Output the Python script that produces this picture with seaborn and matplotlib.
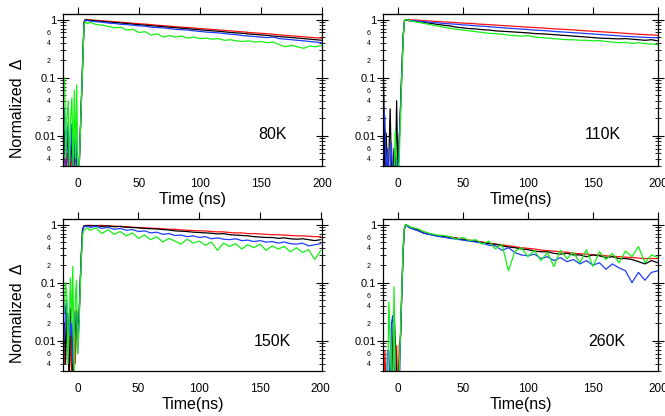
import numpy as np
import pandas as pd
import matplotlib
matplotlib.use("Agg")
import matplotlib.pyplot as plt
import seaborn as sns
from matplotlib.ticker import LogLocator, FuncFormatter

# time axis (ns), shared by every trace
time_ns = [-11, -10, -9, -8, -7, -6, -5, -4, -3, -2, -1, 0,
           1, 2, 3, 4, 5, 6, 8,
           10, 15, 20, 25, 30, 35, 40, 45, 50, 55, 60, 65, 70, 75, 80, 85, 90, 95,
           100, 105, 110, 115, 120, 125, 130, 135, 140, 145, 150, 155, 160, 165,
           170, 175, 180, 185, 190, 195, 200]

# ---- 80K ----
red_80K = [0.004, 0.002, 0.005, 0.003, 0.002, 0.0045, 0.003, 0.002, 0.004, 0.005, 0.002, 0.001,
           0.003, 0.013, 0.055, 0.23, 0.9, 1.0, 1.0,
           0.99, 0.97, 0.955, 0.935, 0.92, 0.90, 0.885, 0.865, 0.85, 0.835, 0.82, 0.80, 0.785,
           0.77, 0.755, 0.74, 0.73, 0.715, 0.70, 0.69, 0.675, 0.665, 0.65, 0.64, 0.625, 0.615,
           0.60, 0.59, 0.58, 0.57, 0.56, 0.545, 0.535, 0.525, 0.515, 0.505, 0.495, 0.485, 0.48]
black_80K = [0.012, 0.002, 0.006, 0.01, 0.002, 0.004, 0.008, 0.002, 0.004, 0.009, 0.002, 0.001,
             0.003, 0.013, 0.055, 0.23, 0.9, 1.0, 0.98,
             0.97, 0.95, 0.93, 0.91, 0.89, 0.875, 0.855, 0.835, 0.82, 0.80, 0.785, 0.77, 0.755,
             0.74, 0.725, 0.71, 0.695, 0.68, 0.665, 0.655, 0.64, 0.63, 0.615, 0.60, 0.59, 0.58,
             0.565, 0.555, 0.545, 0.535, 0.52, 0.51, 0.50, 0.49, 0.48, 0.47, 0.46, 0.45, 0.44]
blue_80K = [0.03, 0.002, 0.008, 0.017, 0.002, 0.006, 0.016, 0.002, 0.005, 0.012, 0.002, 0.001,
            0.003, 0.013, 0.055, 0.23, 0.88, 0.97, 0.96,
            0.94, 0.92, 0.90, 0.87, 0.86, 0.83, 0.82, 0.80, 0.78, 0.77, 0.74, 0.73, 0.72,
            0.70, 0.68, 0.67, 0.66, 0.64, 0.625, 0.61, 0.60, 0.59, 0.575, 0.56, 0.55, 0.53,
            0.52, 0.51, 0.50, 0.49, 0.50, 0.47, 0.46, 0.45, 0.44, 0.43, 0.42, 0.41, 0.40]
green_80K = [0.1, 0.004, 0.02, 0.04, 0.003, 0.02, 0.045, 0.003, 0.06, 0.004, 0.075, 0.001,
             0.003, 0.012, 0.05, 0.2, 0.8, 0.92, 0.85,
             0.90, 0.82, 0.80, 0.76, 0.72, 0.74, 0.66, 0.68, 0.60, 0.62, 0.54, 0.57, 0.50,
             0.53, 0.50, 0.52, 0.48, 0.50, 0.47, 0.48, 0.46, 0.47, 0.44, 0.45, 0.43, 0.42,
             0.43, 0.41, 0.42, 0.40, 0.41, 0.37, 0.34, 0.36, 0.34, 0.32, 0.35, 0.34, 0.36]

# ---- 110K ----
red_110K = [0.002, 0.012, 0.002, 0.0043, 0.002, 0.002, 0.004, 0.002, 0.002, 0.002, 0.003, 0.002,
            0.008, 0.03, 0.13, 0.5, 0.95, 1.0, 1.0,
            0.99, 0.98, 0.96, 0.945, 0.93, 0.915, 0.90, 0.885, 0.87, 0.86, 0.845, 0.83, 0.82,
            0.805, 0.79, 0.78, 0.765, 0.755, 0.74, 0.73, 0.72, 0.705, 0.695, 0.685, 0.675, 0.665,
            0.65, 0.64, 0.63, 0.62, 0.61, 0.60, 0.59, 0.58, 0.57, 0.56, 0.55, 0.545, 0.535]
black_110K = [0.09, 0.002, 0.011, 0.002, 0.004, 0.029, 0.003, 0.002, 0.006, 0.002, 0.04, 0.002,
              0.008, 0.03, 0.13, 0.5, 0.95, 1.0, 0.96,
              0.95, 0.93, 0.90, 0.86, 0.83, 0.80, 0.78, 0.74, 0.72, 0.70, 0.69, 0.67, 0.66,
              0.64, 0.63, 0.62, 0.61, 0.60, 0.59, 0.575, 0.57, 0.56, 0.55, 0.54, 0.53, 0.52,
              0.51, 0.50, 0.49, 0.48, 0.475, 0.47, 0.465, 0.47, 0.46, 0.45, 0.44, 0.45, 0.43]
blue_110K = [0.031, 0.02, 0.002, 0.006, 0.002, 0.003, 0.0075, 0.002, 0.003, 0.002, 0.004, 0.002,
             0.008, 0.03, 0.13, 0.5, 0.95, 0.98, 0.97,
             0.96, 0.94, 0.92, 0.90, 0.88, 0.86, 0.845, 0.83, 0.81, 0.80, 0.78, 0.77, 0.755,
             0.74, 0.725, 0.71, 0.70, 0.685, 0.675, 0.66, 0.65, 0.64, 0.625, 0.615, 0.605, 0.595,
             0.585, 0.575, 0.565, 0.555, 0.545, 0.535, 0.525, 0.515, 0.51, 0.50, 0.495, 0.49, 0.485]
green_110K = [0.001, 0.001, 0.001, 0.001, 0.001, 0.001, 0.001, 0.001, 0.002, 0.0123, 0.002, 0.001,
              0.004, 0.02, 0.1, 0.45, 0.95, 1.02, 0.98,
              0.95, 0.90, 0.86, 0.82, 0.78, 0.74, 0.71, 0.68, 0.66, 0.64, 0.62, 0.60, 0.58,
              0.57, 0.56, 0.54, 0.53, 0.52, 0.53, 0.50, 0.49, 0.48, 0.47, 0.46, 0.45, 0.45,
              0.44, 0.44, 0.43, 0.435, 0.42, 0.41, 0.40, 0.405, 0.39, 0.40, 0.385, 0.38, 0.37]

# ---- 150K ----
red_150K = [0.004, 0.01, 0.03, 0.007, 0.002, 0.012, 0.003, 0.001, 0.033, 0.004, 0.02, 0.01,
            0.02, 0.09, 0.3, 0.8, 0.95, 0.96, 0.97,
            0.97, 0.96, 0.97, 0.95, 0.94, 0.93, 0.92, 0.90, 0.89, 0.88, 0.87, 0.86, 0.85,
            0.83, 0.83, 0.81, 0.80, 0.79, 0.78, 0.78, 0.76, 0.75, 0.75, 0.73, 0.72, 0.72,
            0.70, 0.70, 0.69, 0.68, 0.67, 0.67, 0.66, 0.65, 0.64, 0.64, 0.63, 0.62, 0.62]
black_150K = [0.02, 0.004, 0.03, 0.015, 0.002, 0.036, 0.02, 0.001, 0.01, 0.015, 0.033, 0.02,
              0.02, 0.09, 0.3, 0.8, 0.94, 0.95, 0.96,
              0.94, 0.96, 0.93, 0.95, 0.92, 0.93, 0.90, 0.89, 0.88, 0.86, 0.85, 0.84, 0.82,
              0.81, 0.78, 0.77, 0.76, 0.74, 0.73, 0.72, 0.71, 0.69, 0.70, 0.67, 0.66, 0.65,
              0.64, 0.62, 0.61, 0.60, 0.60, 0.58, 0.59, 0.57, 0.56, 0.57, 0.55, 0.53, 0.55]
blue_150K = [0.01, 0.035, 0.049, 0.008, 0.03, 0.012, 0.025, 0.004, 0.02, 0.03, 0.03, 0.006,
             0.02, 0.09, 0.3, 0.78, 0.92, 0.92, 0.94,
             0.90, 0.93, 0.86, 0.90, 0.83, 0.86, 0.80, 0.82, 0.76, 0.78, 0.72, 0.74, 0.68,
             0.70, 0.65, 0.66, 0.62, 0.64, 0.60, 0.62, 0.57, 0.59, 0.56, 0.55, 0.57, 0.53,
             0.54, 0.51, 0.53, 0.50, 0.51, 0.48, 0.50, 0.47, 0.46, 0.48, 0.43, 0.45, 0.47]
green_150K = [0.03, 0.1, 0.06, 0.004, 0.02, 0.12, 0.02, 0.19, 0.002, 0.05, 0.11, 0.006,
              0.015, 0.07, 0.25, 0.65, 0.8, 0.82, 0.88,
              0.80, 0.88, 0.70, 0.82, 0.68, 0.76, 0.64, 0.72, 0.58, 0.66, 0.55, 0.62, 0.50,
              0.58, 0.52, 0.46, 0.56, 0.48, 0.52, 0.44, 0.50, 0.36, 0.48, 0.42, 0.47, 0.38,
              0.45, 0.40, 0.46, 0.36, 0.43, 0.38, 0.42, 0.34, 0.40, 0.33, 0.37, 0.25, 0.36]

# ---- 260K ----
red_260K = [0.001, 0.0067, 0.001, 0.001, 0.001, 0.001, 0.001, 0.001, 0.001, 0.002, 0.0082, 0.001,
            0.0082, 0.012, 0.07, 0.35, 0.85, 1.0, 0.93,
            0.88, 0.82, 0.72, 0.68, 0.65, 0.63, 0.61, 0.59, 0.56, 0.54, 0.52, 0.50, 0.48,
            0.46, 0.45, 0.43, 0.415, 0.40, 0.39, 0.38, 0.365, 0.355, 0.35, 0.34, 0.335, 0.32,
            0.315, 0.31, 0.30, 0.30, 0.29, 0.285, 0.28, 0.275, 0.27, 0.265, 0.26, 0.26, 0.26]
black_260K = [0.001, 0.001, 0.001, 0.001, 0.001, 0.001, 0.001, 0.01, 0.031, 0.01, 0.002, 0.001,
              0.004, 0.012, 0.07, 0.35, 0.85, 1.0, 0.92,
              0.87, 0.80, 0.71, 0.68, 0.64, 0.62, 0.60, 0.58, 0.55, 0.53, 0.51, 0.49, 0.47,
              0.46, 0.43, 0.41, 0.40, 0.38, 0.37, 0.35, 0.34, 0.34, 0.32, 0.31, 0.32, 0.30,
              0.30, 0.28, 0.30, 0.29, 0.27, 0.28, 0.26, 0.26, 0.25, 0.23, 0.21, 0.24, 0.22]
blue_260K = [0.001, 0.001, 0.001, 0.0067, 0.0067, 0.001, 0.02, 0.027, 0.004, 0.002, 0.001, 0.001,
             0.001, 0.012, 0.07, 0.35, 0.85, 0.98, 0.92,
             0.86, 0.79, 0.71, 0.67, 0.63, 0.61, 0.58, 0.56, 0.54, 0.52, 0.50, 0.48, 0.44,
             0.43, 0.36, 0.40, 0.33, 0.30, 0.29, 0.31, 0.26, 0.28, 0.24, 0.27, 0.23, 0.25,
             0.21, 0.24, 0.20, 0.22, 0.17, 0.21, 0.18, 0.16, 0.10, 0.15, 0.11, 0.15, 0.16]
green_260K = [0.001, 0.001, 0.001, 0.001, 0.046, 0.01, 0.002, 0.001, 0.085, 0.003, 0.001, 0.001,
              0.003, 0.015, 0.08, 0.4, 0.9, 1.0, 0.96,
              0.90, 0.85, 0.76, 0.70, 0.66, 0.65, 0.62, 0.56, 0.60, 0.53, 0.55, 0.46, 0.52,
              0.38, 0.46, 0.16, 0.35, 0.40, 0.28, 0.36, 0.24, 0.33, 0.19, 0.36, 0.26, 0.33,
              0.22, 0.37, 0.19, 0.34, 0.25, 0.32, 0.22, 0.35, 0.28, 0.42, 0.22, 0.30, 0.27]

trace_order = ["red", "black", "blue", "green"]
trace_colors = {"red": "#ff1010", "black": "#000000", "blue": "#1f3cff", "green": "#14f014"}

panels = [
    ("80K", "Time (ns)", [red_80K, black_80K, blue_80K, green_80K], (-12.3, 200)),
    ("110K", "Time(ns)", [red_110K, black_110K, blue_110K, green_110K], (-11.5, 200)),
    ("150K", "Time(ns)", [red_150K, black_150K, blue_150K, green_150K], (-12.1, 201)),
    ("260K", "Time(ns)", [red_260K, black_260K, blue_260K, green_260K], (-11.5, 200)),
]
boxes = [[0.0947, 0.601, 0.3895, 0.3654], [0.5759, 0.601, 0.4135, 0.3654],
         [0.0947, 0.1082, 0.3895, 0.3654], [0.5759, 0.1082, 0.4135, 0.3654]]
temp_pos = [(0.81, 0.204), (0.80, 0.204), (0.81, 0.197), (0.815, 0.197)]

sns.set_style("ticks")
plt.rcParams['font.family'] = ['Liberation Sans', 'DejaVu Sans']
plt.rcParams['text.color'] = 'black'
plt.rcParams['axes.labelcolor'] = 'black'
plt.rcParams['xtick.color'] = 'black'
plt.rcParams['ytick.color'] = 'black'


def minor_label(v, pos):
    d = int(round(v / 10 ** np.floor(np.log10(v))))
    return str(d) if d in (2, 4, 6) else ""


fig = plt.figure(figsize=(6.65, 4.16), dpi=100)
for i, (temp, xlab, traces, xl) in enumerate(panels):
    ax = fig.add_axes(boxes[i])
    df = pd.DataFrame({
        "t": time_ns * 4,
        "v": sum(traces, []),
        "trace": [name for name in trace_order for _ in time_ns],
    })
    sns.lineplot(data=df, x="t", y="v", hue="trace", hue_order=trace_order,
                 palette=trace_colors, estimator=None, sort=False, legend=False,
                 lw=0.9, ax=ax)
    ax.set_yscale("log")
    ax.set_ylim(0.003, 1.25)
    ax.set_xlim(*xl)
    ax.set_xticks([0, 50, 100, 150, 200])
    ax.yaxis.set_major_locator(LogLocator(base=10))
    ax.yaxis.set_major_formatter(FuncFormatter(lambda v, p: f"{v:g}"))
    ax.yaxis.set_minor_locator(LogLocator(base=10, subs=range(2, 10)))
    ax.yaxis.set_minor_formatter(FuncFormatter(minor_label))
    ax.tick_params(axis="x", which="both", bottom=False, length=0, labelsize=8.5, pad=8.5)
    ax.tick_params(axis="y", which="major", left=True, right=True, direction="inout",
                   length=8, width=0.8, labelsize=8, pad=1)
    ax.tick_params(axis="y", which="minor", left=True, right=True, direction="inout",
                   length=4, width=0.6, labelsize=5, pad=7)
    top = ax.secondary_xaxis("top")
    top.set_xticks([0, 50, 100, 150, 200])
    top.tick_params(direction="out", length=5, width=0.8, labeltop=False)
    for s in ax.spines.values():
        s.set_linewidth(0.9)
        s.set_color("black")
    ax.set_xlabel(xlab, fontsize=11.5, va="baseline")
    ax.xaxis.set_label_coords(0.5, -0.25)
    if i % 2 == 0:
        ax.set_ylabel("Normalized  Δ", fontsize=11.5, va="center")
        ax.yaxis.set_label_coords(-0.174, 0.38)
    else:
        ax.set_ylabel("")
    ax.text(temp_pos[i][0], temp_pos[i][1], temp, transform=ax.transAxes,
            ha="center", va="center", fontsize=11.5)

fig.savefig("out.png", dpi=100)
plt.close(fig)
